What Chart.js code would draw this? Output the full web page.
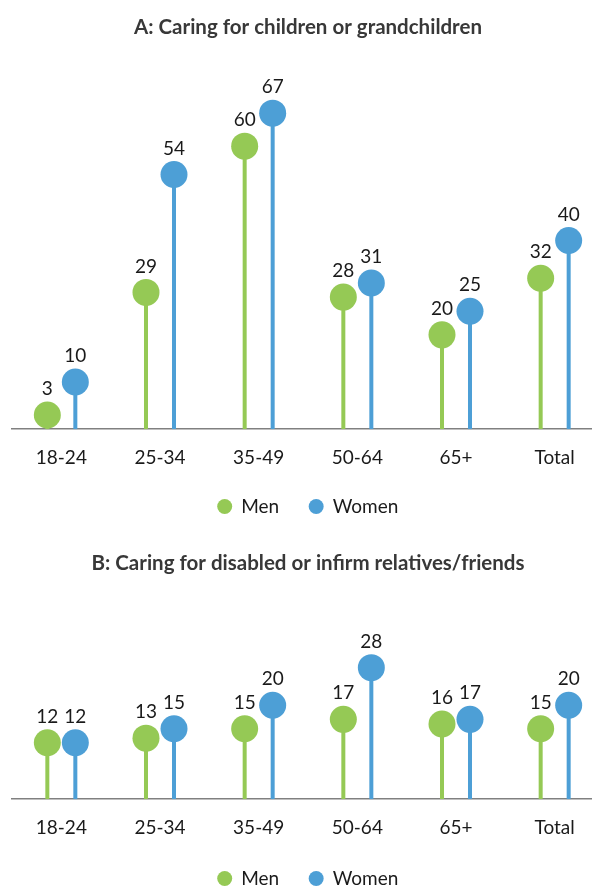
<!DOCTYPE html>
<html>
<head>
<meta charset="utf-8">
<script src="https://cdn.jsdelivr.net/npm/chart.js@4.4.1/dist/chart.umd.min.js"></script>
<style>
    html, body { margin: 0; padding: 0; background: #fff; overflow: hidden; width: 592px; height: 887px; }
    canvas { display: block; }
</style>
</head>
<body>
<canvas id="chartA" width="604" height="526"></canvas>
<canvas id="chartB" width="604" height="372"></canvas>
<script>
// Данные с картинки
const categories = ['18-24', '25-34', '35-49', '50-64', '65+', 'Total'];
const seriesNames = ['Men', 'Women'];
const childrenMen = [3, 29, 60, 28, 20, 32];
const childrenWomen = [10, 54, 67, 31, 25, 40];
const disabledMen = [12, 13, 15, 17, 16, 15];
const disabledWomen = [12, 15, 20, 28, 17, 20];

const GREEN = '#95c955';
const BLUE = '#4d9fd6';
const FONT = 'Lato';

// Кружки и подписи на концах столбиков
const lollipopPlugin = {
    id: 'lollipop',
    afterDatasetsDraw(chart) {
        const ctx = chart.ctx;
        chart.data.datasets.forEach((ds, i) => {
            const meta = chart.getDatasetMeta(i);
            meta.data.forEach((bar, j) => {
                ctx.save();
                ctx.fillStyle = ds.backgroundColor;
                ctx.beginPath();
                ctx.arc(bar.x, bar.y, 13.5, 0, Math.PI * 2);
                ctx.fill();
                ctx.fillStyle = '#1a1a1a';
                ctx.font = '19px ' + FONT;
                ctx.textAlign = 'center';
                ctx.textBaseline = 'middle';
                ctx.fillText(ds.data[j], bar.x, bar.y - 26);
                ctx.restore();
            });
        });
    }
};

function makeChart(id, title, men, women, yMax, titleTop, axisShrink) {
    const ctx = document.getElementById(id);
    return new Chart(ctx, {
        type: 'bar',
        data: {
            labels: categories,
            datasets: [{
                label: seriesNames[0],
                data: men,
                backgroundColor: GREEN,
                categoryPercentage: 0.5676,
                barPercentage: 0.143
            }, {
                label: seriesNames[1],
                data: women,
                backgroundColor: BLUE,
                categoryPercentage: 0.5676,
                barPercentage: 0.143
            }]
        },
        options: {
            responsive: false,
            animation: false,
            devicePixelRatio: 1,
            layout: { padding: { left: 12, right: 0, top: 0, bottom: 0 } },
            scales: {
                x: {
                    grid: { display: false, drawTicks: false },
                    border: { display: true, color: '#808080', width: 1.5 },
                    ticks: { padding: 17, color: '#1a1a1a', font: { family: FONT, size: 19 } },
                    afterFit: function(scale) {
                        scale.height -= axisShrink; // подпись ближе к легенде
                    }
                },
                y: {
                    display: false,
                    min: 0,
                    max: yMax
                }
            },
            plugins: {
                title: {
                    display: true,
                    text: title,
                    color: '#383838',
                    font: { family: FONT, size: 20.5, weight: 'bold' },
                    padding: { top: titleTop, bottom: 12.5 }
                },
                legend: {
                    position: 'bottom',
                    labels: {
                        usePointStyle: true,
                        pointStyle: 'circle',
                        boxWidth: 14,
                        boxHeight: 10.6,
                        padding: 30,
                        color: '#1a1a1a',
                        font: { family: FONT, size: 19 }
                    }
                },
                tooltip: { enabled: false }
            }
        },
        plugins: [lollipopPlugin]
    });
}

makeChart('chartA', 'A: Caring for children or grandchildren', childrenMen, childrenWomen, 80, 14.7, 19);
makeChart('chartB', 'B: Caring for disabled or infirm relatives/friends', disabledMen, disabledWomen, 45, 24.7, 17);
</script>
</body>
</html>
